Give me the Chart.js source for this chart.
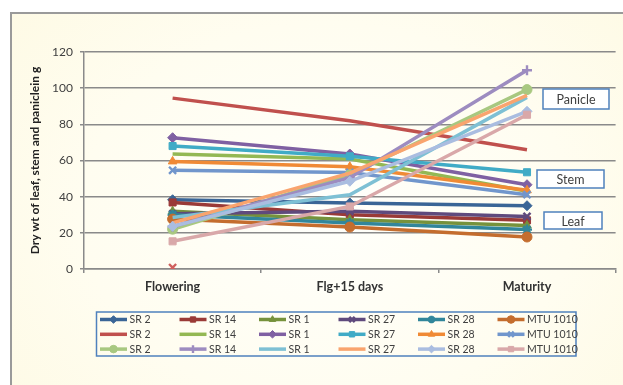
<!DOCTYPE html>
<html>
<head>
<meta charset="utf-8">
<script src="https://cdn.jsdelivr.net/npm/chart.js@4/dist/chart.umd.min.js"></script>
<style>
  html, body { margin: 0; padding: 0; width: 623px; height: 385px; overflow: hidden; background: #fff; }
  #frame {
    position: absolute; left: 10px; top: 12px; width: 700px; height: 500px;
    border: 2px solid #9a9a9a;
    background: radial-gradient(ellipse at 45% 40%, #fffffb 0%, #fffdf0 45%, #fdf8dc 100%);
  }
  #c { position: absolute; left: 0; top: 0; }
</style>
</head>
<body>
<div id="frame"></div>
<canvas id="c" width="623" height="385"></canvas>
<script>
// stages on the x axis
const stages = ["Flowering", "Flg+15 days", "Maturity"];
const varieties = ["SR 2", "SR 14", "SR 1", "SR 27", "SR 28", "MTU 1010"];

// dry weight (g) per variety, one row per variety in the order above
const leafValues = [
  [38.3, 36.5, 35.0],
  [36.8, 30.0, 26.9],
  [31.9, 27.3, 24.0],
  [30.5, 31.9, 29.1],
  [30.0, 25.4, 21.8],
  [27.6, 23.2, 17.7]
];
const stemValues = [
  [94.5, 82.0, 66.0],
  [63.6, 60.8, 43.0],
  [72.6, 63.6, 46.6],
  [68.0, 62.3, 53.5],
  [59.5, 56.5, 43.5],
  [54.6, 53.4, 41.1]
];
const panicleValues = [
  [22.0, 52.0, 99.2],
  [23.5, 50.5, 109.9],
  [28.5, 41.0, 94.9],
  [25.5, 53.0, 96.0],
  [23.6, 48.5, 87.2],
  [15.3, 34.6, 85.3]
];
// stray marker sitting on the x axis at Flowering
const strayPoint = [0.8, null, null];

const yTicks = [0, 20, 40, 60, 80, 100, 120];

const leafColors = ["#3a6596", "#9a3a37", "#76923c", "#5f4a7d", "#31869b", "#c46d2e"];
const stemColors = ["#c0504d", "#93b853", "#7f60a2", "#40abc6", "#f08a35", "#7196cc"];
const panicleColors = ["#a8c880", "#9d8cc0", "#7ec0d4", "#f9a46e", "#aabde0", "#d9a8a9"];

const leafMarkers = ["rectRot", "rect", "triangle", "crossRot", "star", "circle"];
const stemMarkers = [false, false, "rectRot", "rect", "triangle", "crossRot"];
const panicleMarkers = ["circle", "cross", false, false, "rectRot", "rect"];

const FONT = "Lato, 'Liberation Sans', sans-serif";
const TXT = "#404040";

function makeSet(name, values, color, marker, idx) {
  return {
    label: name,
    data: values,
    borderColor: color,
    backgroundColor: color,
    pointBackgroundColor: color,
    pointBorderColor: color,
    borderWidth: 3.5,
    pointStyle: marker || "circle",
    pointRadius: marker ? 5 : 0,
    pointBorderWidth: (marker === "crossRot" || marker === "cross" || marker === "star") ? 2.4 : 1,
    tension: 0,
    order: 100 - idx
  };
}

const datasets = [];
let k = 0;
varieties.forEach((v, i) => datasets.push(makeSet(v, leafValues[i], leafColors[i], leafMarkers[i], k++)));
varieties.forEach((v, i) => datasets.push(makeSet(v, stemValues[i], stemColors[i], stemMarkers[i], k++)));
varieties.forEach((v, i) => datasets.push(makeSet(v, panicleValues[i], panicleColors[i], panicleMarkers[i], k++)));
datasets.push(Object.assign(makeSet("", strayPoint, "#d0605e", "crossRot", k++), { showLine: false, inLegend: false }));

// legend + part labels drawn on the canvas
const extras = {
  id: "extras",
  afterDraw(chart) {
    const ctx = chart.ctx;
    ctx.save();
    // part labels
    const boxes = [
      ["Panicle", 543, 89, 66, 20],
      ["Stem", 537, 170, 67, 18],
      ["Leaf", 544, 212, 58, 17]
    ];
    ctx.font = "12.5px " + FONT;
    ctx.textAlign = "center";
    ctx.textBaseline = "middle";
    boxes.forEach(b => {
      ctx.fillStyle = "#ffffff";
      ctx.fillRect(b[1], b[2], b[3], b[4]);
      ctx.strokeStyle = "#4f81bd";
      ctx.lineWidth = 1.5;
      ctx.strokeRect(b[1], b[2], b[3], b[4]);
      ctx.fillStyle = TXT;
      ctx.fillText(b[0], b[1] + b[3] / 2, b[2] + b[4] / 2 + 1);
    });

    // legend
    ctx.strokeStyle = "#4f81bd";
    ctx.lineWidth = 1.5;
    ctx.strokeRect(96.5, 312, 479.5, 44);
    ctx.font = "10.5px " + FONT;
    ctx.textAlign = "left";
    chart.data.datasets.forEach((ds, i) => {
      if (ds.inLegend === false) return;
      const col = i % 6, row = Math.floor(i / 6);
      const x0 = 100 + col * 79.5;
      const y = 319.5 + row * 14.8;
      ctx.strokeStyle = ds.borderColor;
      ctx.lineWidth = 3.5;
      ctx.beginPath();
      ctx.moveTo(x0, y);
      ctx.lineTo(x0 + 27, y);
      ctx.stroke();
      if (ds.pointRadius > 0) {
        ctx.fillStyle = ds.borderColor;
        ctx.strokeStyle = ds.borderColor;
        ctx.lineWidth = ds.pointBorderWidth;
        Chart.helpers.drawPoint(ctx, { pointStyle: ds.pointStyle, radius: 3.8, rotation: 0, borderWidth: ds.pointBorderWidth }, x0 + 13.5, y);
      }
      ctx.fillStyle = TXT;
      ctx.fillText(ds.label, x0 + 29.5, y + 0.5);
    });
    ctx.restore();
  }
};

new Chart(document.getElementById("c"), {
  type: "line",
  data: { labels: stages, datasets: datasets },
  options: {
    responsive: false,
    animation: false,
    devicePixelRatio: 1,
    layout: { padding: { left: 24, top: 52, right: 7, bottom: 86 } },
    plugins: { legend: { display: false }, tooltip: { enabled: false } },
    scales: {
      x: {
        offset: true,
        grid: { offset: true, drawOnChartArea: false, color: "#8a8a8a", lineWidth: 1.5, tickLength: 4 },
        border: { color: "#8a8a8a", width: 1.5 },
        ticks: { color: "#333", padding: 6, font: { family: FONT, size: 12.5, weight: "bold" } },
        afterFit(s) { s.height = 30; }
      },
      y: {
        min: 0, max: 120,
        afterBuildTicks(s) { s.ticks = yTicks.map(v => ({ value: v })); },
        grid: { color: "#8a8a8a", lineWidth: 1.5, tickLength: 4 },
        border: { color: "#8a8a8a", width: 1.5 },
        ticks: { color: TXT, padding: 7, font: { family: FONT, size: 12 } },
        title: {
          display: true,
          text: "Dry wt of leaf, stem and paniclein g",
          color: "#222",
          font: { family: FONT, size: 12, weight: "bold" }
        },
        afterFit(s) { s.width = 60; }
      }
    }
  },
  plugins: [extras]
});
</script>
</body>
</html>
